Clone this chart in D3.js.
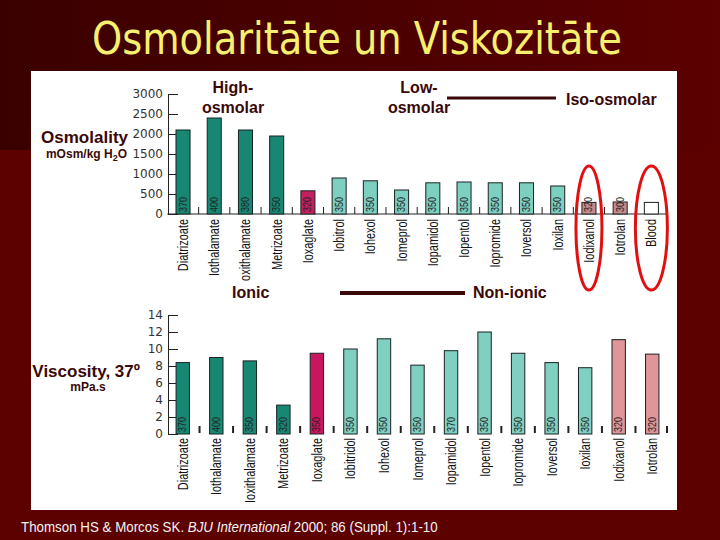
<!DOCTYPE html>
<html>
<head>
<meta charset="utf-8">
<script src="https://cdn.jsdelivr.net/npm/d3@7"></script>
<style>
  body { margin: 0; background: #5c0000; }
  svg { display: block; }
  .yaxis text { font-family: "DejaVu Sans", sans-serif; font-size: 12px; fill: #333; }
  .yaxis line, .yaxis path { stroke: #222; }
  .cat { font-family: "Liberation Sans", Arial, sans-serif; font-size: 14px; fill: #111; }
  .conc { font-family: "Liberation Sans", Arial, sans-serif; font-size: 10px; fill: #222; }
  .lbl { font-family: "Liberation Sans", Arial, sans-serif; font-weight: bold; fill: #3a0808; }
</style>
</head>
<body>
<div id="chart"></div>
<script>
// Upper chart: osmolality
const osmCats = ["Diatrizoate", "Iothalamate", "Ioxithalamate", "Metrizoate", "Ioxaglate", "Iobitrol", "Iohexol",
  "Iomeprol", "Iopamidol", "Iopentol", "Iopromide", "Ioversol", "Ioxilan", "Iodixanol", "Iotrolan", "Blood"];
const osmValues = [2100, 2400, 2100, 1950, 580, 900, 830, 600, 780, 800, 780, 780, 700, 290, 300, 290];
const osmConc = ["370", "400", "380", "350", "320", "350", "350", "350", "350", "350", "350", "350", "350", "320", "300", ""];
const osmGroup = ["high", "high", "high", "high", "ioxaglate", "low", "low", "low", "low", "low", "low", "low", "low", "iso", "iso", "blood"];
const osmTicks = [0, 500, 1000, 1500, 2000, 2500, 3000];

// Lower chart: viscosity at 37 degrees
const viscCats = ["Diatrizoate", "Iothalamate", "Ioxithalamate", "Metrizoate", "Ioxaglate", "Iobitridol", "Iohexol",
  "Iomeprol", "Iopamidol", "Iopentol", "Iopromide", "Ioversol", "Ioxilan", "Iodixanol", "Iotrolan"];
const viscValues = [8.4, 9.0, 8.6, 3.4, 9.5, 10.0, 11.2, 8.1, 9.8, 12.0, 9.5, 8.4, 7.8, 11.1, 9.4];
const viscConc = ["370", "400", "350", "320", "350", "350", "350", "350", "370", "350", "350", "350", "350", "320", "320"];
const viscGroup = ["high", "high", "high", "high", "ioxaglate", "low", "low", "low", "low", "low", "low", "low", "low", "iso", "iso"];
const viscTicks = [0, 2, 4, 6, 8, 10, 12, 14];

const circled = ["Iodixanol", "Blood"];

const osmColor = { high: "#178774", ioxaglate: "#c41f5f", low: "#7dcfc0", iso: "#c98a8c", blood: "#ffffff" };
const viscColor = { high: "#178774", ioxaglate: "#c8175e", low: "#7fd0c0", iso: "#e09598" };

const W = 720, H = 540;
const svg = d3.select("#chart").append("svg").attr("width", W).attr("height", H);

// slide background
const defs = svg.append("defs");
const grad = defs.append("linearGradient").attr("id", "bg").attr("x1", 0).attr("x2", 1).attr("y1", 0).attr("y2", 0);
grad.append("stop").attr("offset", "0%").attr("stop-color", "#3a0000");
grad.append("stop").attr("offset", "100%").attr("stop-color", "#5c0000");
svg.append("rect").attr("width", W).attr("height", H).attr("fill", "#5c0000");
svg.append("rect").attr("width", W).attr("height", 150).attr("fill", "url(#bg)");

svg.append("text")
  .attr("x", 357).attr("y", 54)
  .attr("text-anchor", "middle")
  .attr("textLength", 530).attr("lengthAdjust", "spacingAndGlyphs")
  .style("font-family", "'DejaVu Sans Condensed', 'DejaVu Sans', sans-serif")
  .style("font-size", "44px").style("fill", "#f7f06e")
  .text("Osmolaritāte un Viskozitāte");

// white panel
svg.append("rect").attr("x", 31).attr("y", 71).attr("width", 646).attr("height", 439).attr("fill", "#fff");

defs.append("clipPath").attr("id", "upclip")
  .append("rect").attr("x", 31).attr("y", 215).attr("width", 646).attr("height", 66);

// ---------- upper chart ----------
const xOsm = d3.scaleBand().domain(osmCats).range([167.4, 667]).paddingInner(0.55).paddingOuter(0.275);
const yOsm = d3.scaleLinear().domain([0, 3000]).range([214, 94]);

svg.append("g").attr("class", "yaxis")
  .attr("transform", "translate(168,0)")
  .call(d3.axisLeft(yOsm).tickValues(osmTicks).tickFormat(d3.format("d"))
    .tickSizeInner(-10).tickSizeOuter(0).tickPadding(5));

svg.append("line")
  .attr("x1", xOsm.range()[0]).attr("x2", xOsm.range()[1])
  .attr("y1", yOsm(0)).attr("y2", yOsm(0))
  .attr("stroke", "#222");

svg.append("g").selectAll("line")
  .data(osmCats.slice(1))
  .join("line")
  .attr("x1", d => xOsm(d) + xOsm.bandwidth() / 2 - xOsm.step() / 2)
  .attr("x2", d => xOsm(d) + xOsm.bandwidth() / 2 - xOsm.step() / 2)
  .attr("y1", yOsm(0)).attr("y2", yOsm(0) - 7)
  .attr("stroke", "#222");

svg.append("g").selectAll("rect")
  .data(osmCats)
  .join("rect")
  .attr("x", d => xOsm(d))
  .attr("y", (d, i) => yOsm(osmValues[i]))
  .attr("width", xOsm.bandwidth())
  .attr("height", (d, i) => yOsm(0) - yOsm(osmValues[i]))
  .attr("fill", (d, i) => osmColor[osmGroup[i]])
  .attr("stroke", "#1a2222").attr("stroke-width", 1);

svg.append("g").selectAll("text")
  .data(osmCats)
  .join("text")
  .attr("class", "conc")
  .attr("transform", d => "translate(" + (xOsm(d) + xOsm.bandwidth() / 2 + 3.5) + "," + (yOsm(0) - 2) + ") rotate(-90) scale(0.9,1)")
  .text((d, i) => osmConc[i]);

svg.append("g").attr("clip-path", "url(#upclip)").selectAll("text")
  .data(osmCats)
  .join("text")
  .attr("class", "cat")
  .attr("text-anchor", "end")
  .attr("transform", d => "translate(" + (xOsm(d) + xOsm.bandwidth() / 2 + 5) + "," + (yOsm(0) + 5) + ") rotate(-90) scale(0.78,1)")
  .text(d => d);

// red ellipses
svg.append("g").selectAll("ellipse")
  .data(circled)
  .join("ellipse")
  .attr("cx", d => xOsm(d) + xOsm.bandwidth() / 2)
  .attr("cy", 228)
  .attr("rx", d => d === "Blood" ? 16 : 13)
  .attr("ry", 62)
  .attr("fill", "none").attr("stroke", "#e01010").attr("stroke-width", 3);

// ---------- lower chart ----------
const xVisc = d3.scaleBand().domain(viscCats).range([166, 669]).paddingInner(0.6).paddingOuter(0.3);
const yVisc = d3.scaleLinear().domain([0, 14]).range([434, 315]);

svg.append("g").attr("class", "yaxis")
  .attr("transform", "translate(168,0)")
  .call(d3.axisLeft(yVisc).tickValues(viscTicks).tickSizeInner(-10).tickSizeOuter(0).tickPadding(5));

svg.append("g").selectAll("line")
  .data(viscCats.slice(1).concat(["end"]))
  .join("line")
  .attr("x1", d => d === "end" ? xVisc.range()[1] - 2 : xVisc(d) + xVisc.bandwidth() / 2 - xVisc.step() / 2)
  .attr("x2", d => d === "end" ? xVisc.range()[1] - 2 : xVisc(d) + xVisc.bandwidth() / 2 - xVisc.step() / 2)
  .attr("y1", yVisc(0) - 1).attr("y2", yVisc(0) - 8)
  .attr("stroke", "#222").attr("stroke-width", 2);

svg.append("g").selectAll("rect")
  .data(viscCats)
  .join("rect")
  .attr("x", d => xVisc(d))
  .attr("y", (d, i) => yVisc(viscValues[i]))
  .attr("width", xVisc.bandwidth())
  .attr("height", (d, i) => yVisc(0) - yVisc(viscValues[i]))
  .attr("fill", (d, i) => viscColor[viscGroup[i]])
  .attr("stroke", "#1a2222").attr("stroke-width", 1);

svg.append("g").selectAll("text")
  .data(viscCats)
  .join("text")
  .attr("class", "conc")
  .attr("transform", d => "translate(" + (xVisc(d) + xVisc.bandwidth() / 2 + 3.5) + "," + (yVisc(0) - 2) + ") rotate(-90) scale(0.9,1)")
  .text((d, i) => viscConc[i]);

svg.append("g").selectAll("text")
  .data(viscCats)
  .join("text")
  .attr("class", "cat")
  .attr("text-anchor", "end")
  .attr("transform", d => "translate(" + (xVisc(d) + xVisc.bandwidth() / 2 + 5) + "," + (yVisc(0) + 4) + ") rotate(-90) scale(0.78,1)")
  .text(d => d);

// ---------- annotations ----------
function label(x, y, size, anchor, txt) {
  return svg.append("text").attr("class", "lbl")
    .attr("x", x).attr("y", y).attr("text-anchor", anchor)
    .style("font-size", size + "px").text(txt);
}
label(233, 93, 16, "middle", "High-");
label(233, 113, 16, "middle", "osmolar");
label(419, 93, 16, "middle", "Low-");
label(419, 113, 16, "middle", "osmolar");
label(566, 105, 16, "start", "Iso-osmolar");
svg.append("line").attr("x1", 447).attr("x2", 556).attr("y1", 98).attr("y2", 98)
  .attr("stroke", "#3a0808").attr("stroke-width", 3);

label(128, 143, 17, "end", "Osmolality");
const unit = label(127, 158, 12, "end", "mOsm/kg H");
unit.append("tspan").attr("dy", 3).style("font-size", "9px").text("2");
unit.append("tspan").attr("dy", -3).text("O");

label(140, 377, 17, "end", "Viscosity, 37º");
label(88, 391, 12, "middle", "mPa.s");

label(232, 298, 16, "start", "Ionic");
label(473, 298, 16, "start", "Non-ionic");
svg.append("line").attr("x1", 340).attr("x2", 465).attr("y1", 293).attr("y2", 293)
  .attr("stroke", "#3a0808").attr("stroke-width", 4);

// citation
const cite = svg.append("text")
  .attr("transform", "translate(21,532) scale(0.89,1)")
  .style("font-family", "'Liberation Sans', Arial, sans-serif")
  .style("font-size", "15px").style("fill", "#f2f2f2");
cite.append("tspan").text("Thomson HS & Morcos SK. ");
cite.append("tspan").style("font-style", "italic").text("BJU International");
cite.append("tspan").text(" 2000; 86 (Suppl. 1):1-10");
</script>
</body>
</html>
